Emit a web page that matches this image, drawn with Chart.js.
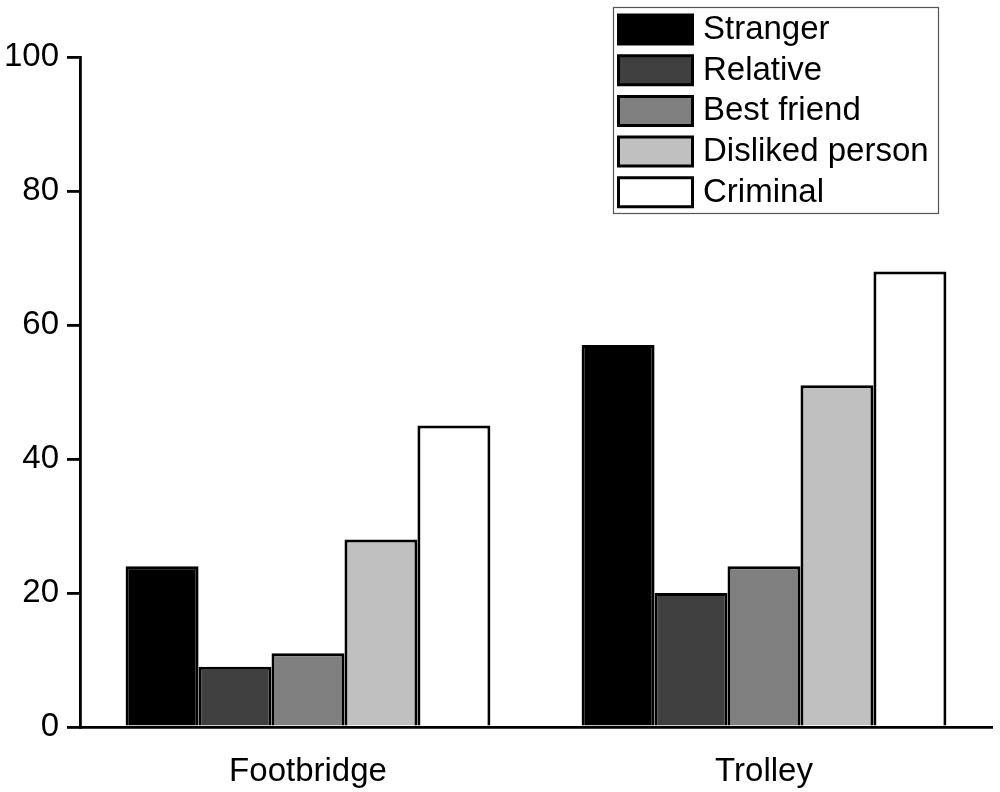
<!DOCTYPE html>
<html><head><meta charset="utf-8">
<script src="https://cdn.jsdelivr.net/npm/chart.js@4"></script>
<style>html,body{margin:0;padding:0;background:#fff;}#wrap{width:1000px;height:792px;}</style>
</head><body><div id="wrap"><canvas id="c" width="1000" height="792"></canvas></div>
<script>
const categories = ["Footbridge", "Trolley"];
const seriesNames = ["Stranger", "Relative", "Best friend", "Disliked person", "Criminal"];
const stranger = [24, 57];
const relative = [9, 20];
const bestFriend = [11, 24];
const dislikedPerson = [28, 51];
const criminal = [45, 68];
const yTicks = [0, 20, 40, 60, 80, 100];
const fills = ["#000000", "#404040", "#808080", "#c0c0c0", "#ffffff"];

const values = [stranger, relative, bestFriend, dislikedPerson, criminal];
const FONT = '"Liberation Sans", Arial, sans-serif';

const legendPlugin = {
  id: 'boxLegend',
  afterDraw(chart) {
    const ctx = chart.ctx;
    ctx.save();
    const bx = 613, by = 7, bw = 325, bh = 206;
    ctx.strokeStyle = '#555';
    ctx.lineWidth = 1.2;
    ctx.strokeRect(bx + 0.5, by + 0.5, bw, bh);
    ctx.font = '33px ' + FONT;
    ctx.textBaseline = 'middle';
    chart.data.datasets.forEach((ds, i) => {
      const y = 14 + i * 40.7;
      ctx.fillStyle = ds.backgroundColor;
      ctx.strokeStyle = '#000';
      ctx.lineWidth = 3;
      ctx.beginPath();
      ctx.rect(618.5, y + 1, 74, 29);
      ctx.fill();
      ctx.stroke();
      ctx.fillStyle = '#000';
      ctx.fillText(ds.label, 703, y + 16);
    });
    ctx.restore();
  }
};

new Chart(document.getElementById('c'), {
  type: 'bar',
  data: {
    labels: categories,
    datasets: seriesNames.map((n, i) => ({
      label: n,
      data: values[i],
      backgroundColor: fills[i],
      borderColor: '#000',
      borderWidth: 3,
      borderSkipped: 'bottom',
      categoryPercentage: 0.8,
      barPercentage: 1.0
    }))
  },
  options: {
    responsive: false,
    animation: false,
    devicePixelRatio: 1,
    layout: { padding: { top: 57, right: 8, left: 0, bottom: 0 } },
    plugins: { legend: { display: false }, tooltip: { enabled: false } },
    scales: {
      x: {
        grid: { display: false, drawTicks: false },
        border: { display: true, color: '#000', width: 2.8 },
        ticks: { color: '#000', font: { family: FONT, size: 33 }, padding: 25 },
        afterFit(s) { s.height = 65; }
      },
      y: {
        min: 0, max: 100,
        afterBuildTicks(s) { s.ticks = yTicks.map(v => ({ value: v })); },
        grid: { drawOnChartArea: false, drawTicks: true, tickLength: 13, color: '#000', lineWidth: 2.8 },
        border: { display: true, color: '#000', width: 2.8 },
        ticks: { color: '#000', font: { family: FONT, size: 33 }, padding: 8 },
        afterFit(s) { s.width = 80; }
      }
    }
  },
  plugins: [legendPlugin]
});
</script></body></html>
